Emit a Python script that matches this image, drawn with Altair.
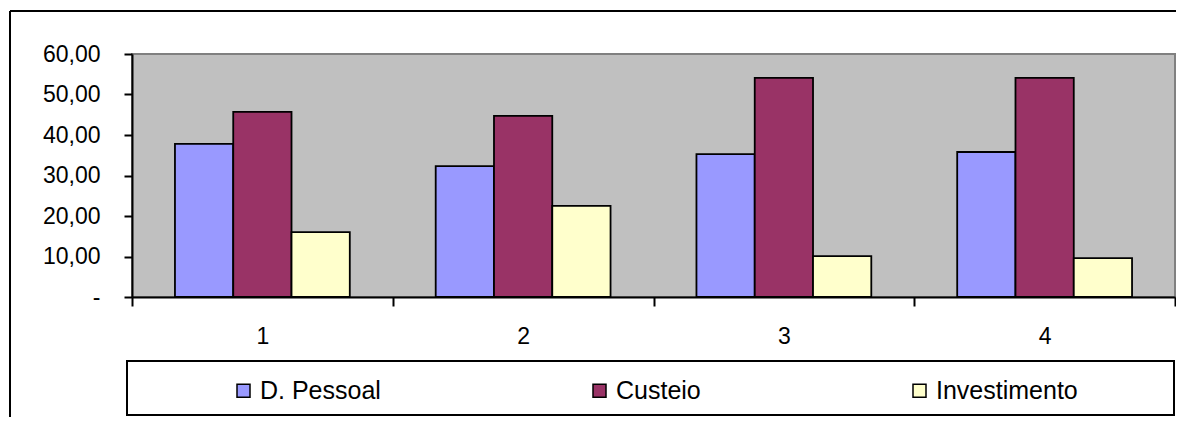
import altair as alt
import pandas as pd

categories = ["1", "2", "3", "4"]
series = ["D. Pessoal", "Custeio", "Investimento"]
d_pessoal = [37.8, 32.3, 35.3, 35.8]
custeio = [45.7, 44.7, 54.1, 54.1]
investimento = [16.0, 22.5, 10.1, 9.6]
colors = ["#9999FF", "#993366", "#FFFFCC"]
y_ticks = [0, 10, 20, 30, 40, 50, 60]

rows = []
for name, vals in zip(series, [d_pessoal, custeio, investimento]):
    for c, v in zip(categories, vals):
        rows.append({"cat": c, "serie": name, "valor": v})
df = pd.DataFrame(rows)
one = pd.DataFrame({"k": [0]})

W, H = 1043, 243
FONT = "Liberation Sans"

bars = alt.Chart(df).mark_bar(stroke="black", strokeWidth=1.8).encode(
    x=alt.X(
        "cat:N", sort=categories, title=None,
        scale=alt.Scale(paddingInner=0, paddingOuter=0),
        axis=alt.Axis(labelAngle=0, tickBand="extent", domainColor="black", domainWidth=2,
                      tickColor="black", tickWidth=2, tickSize=9, labelPadding=19,
                      labelFont=FONT, labelFontSize=23, labelColor="black"),
    ),
    xOffset=alt.XOffset("serie:N", sort=series,
                        scale=alt.Scale(paddingInner=0, paddingOuter=0.737)),
    y=alt.Y(
        "valor:Q", title=None,
        scale=alt.Scale(domain=[0, 60], nice=False),
        axis=alt.Axis(values=y_ticks, grid=False, domainColor="black", domainWidth=2,
                      tickColor="black", tickWidth=2, tickSize=8, labelPadding=24,
                      labelFont=FONT, labelFontSize=23, labelColor="black",
                      labelExpr="datum.value == 0 ? '-\u2007\u2007' : replace(format(datum.value, '.2f'), '.', ',')"),
    ),
    color=alt.Color(
        "serie:N", sort=series,
        scale=alt.Scale(domain=series, range=colors),
        legend=alt.Legend(orient="none", legendX=99, legendY=324, direction="horizontal",
                          title=None, columns=3, gridAlign="each", columnPadding=206,
                          symbolType="square", symbolSize=169, symbolStrokeColor="black",
                          symbolStrokeWidth=1.5, labelFont=FONT, labelFontSize=25,
                          labelColor="black", labelOffset=4, labelLimit=300, padding=0),
    ),
)

legend_box = alt.Chart(one).mark_rect(filled=False, stroke="black", strokeWidth=2).encode(
    x=alt.value(-5), x2=alt.value(1042), y=alt.value(307), y2=alt.value(361)
)
frame_left = alt.Chart(one).mark_rule(stroke="black", strokeWidth=2).encode(
    x=alt.value(-122), y=alt.value(-43), y2=alt.value(420)
)
frame_top = alt.Chart(one).mark_rule(stroke="black", strokeWidth=2).encode(
    y=alt.value(-43), x=alt.value(-122), x2=alt.value(1100)
)

chart = alt.layer(legend_box, frame_left, frame_top, bars).properties(
    width=W, height=H,
    autosize=alt.AutoSizeParams(type="none"),
    padding={"left": 124, "top": 46, "right": 1, "bottom": 120},
    background="white",
).configure_view(
    fill="#C0C0C0", stroke="#808080", strokeWidth=2
)

chart.save("out.html", embed_options={"renderer": "svg", "actions": False})
